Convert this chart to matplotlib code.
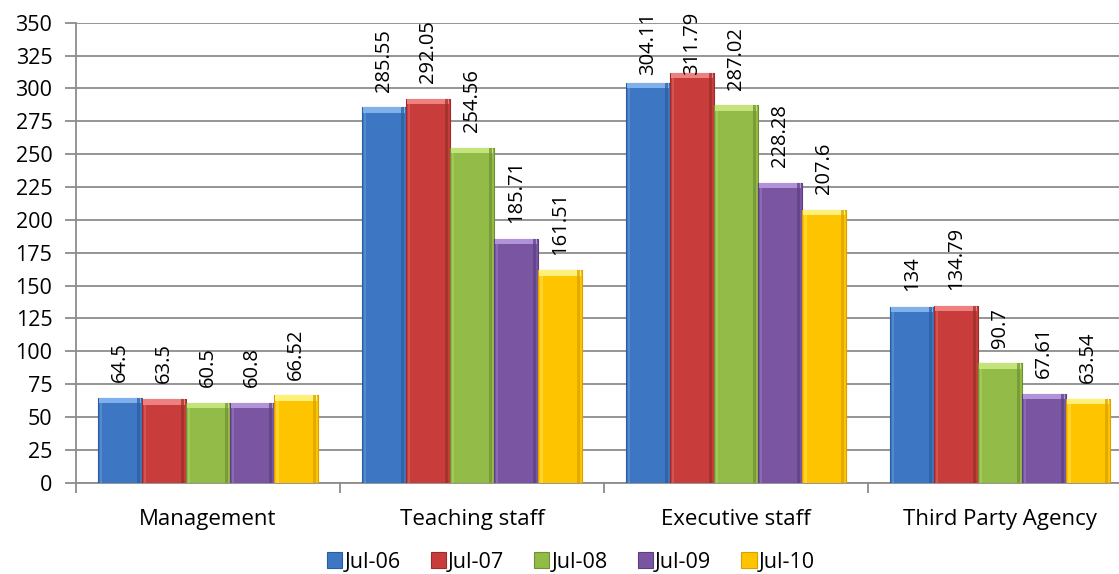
import matplotlib
matplotlib.use('Agg')
import matplotlib.pyplot as plt
import numpy as np

# chart values
categories = ['Management', 'Teaching staff', 'Executive staff', 'Third Party Agency']
series = ['Jul-06', 'Jul-07', 'Jul-08', 'Jul-09', 'Jul-10']
jul06 = [64.5, 285.55, 304.11, 134]
jul07 = [63.5, 292.05, 311.79, 134.79]
jul08 = [60.5, 254.56, 287.02, 90.7]
jul09 = [60.8, 185.71, 228.28, 67.61]
jul10 = [66.52, 161.51, 207.6, 63.54]
values = [jul06, jul07, jul08, jul09, jul10]
labels = [['64.5', '285.55', '304.11', '134'],
          ['63.5', '292.05', '311.79', '134.79'],
          ['60.5', '254.56', '287.02', '90.7'],
          ['60.8', '185.71', '228.28', '67.61'],
          ['66.52', '161.51', '207.6', '63.54']]

colors = ['#3d77c4', '#c83d3b', '#93bb47', '#7a56a2', '#ffc400']
light = ['#7fb0ec', '#ee8080', '#c4e37a', '#b093d8', '#fff07a']
dark = ['#2b5c9c', '#9a2c2a', '#6f9033', '#5b3f7f', '#d8a000']

plt.rcParams['font.family'] = ['Open Sans', 'DejaVu Sans']

W, H = 1119, 574
fig = plt.figure(figsize=(W / 100, H / 100), dpi=100)
ax = fig.add_axes([76 / W, 1 - 482.7 / H, 1056 / W, 460 / H])

ax.set_xlim(0, 4)
ax.set_ylim(0, 350)

x = np.arange(len(categories)) + 0.5
w = 0.167
texts = []
for i, vals in enumerate(values):
    pos = x + (i - 2) * w
    ax.bar(pos, vals, width=w, color=colors[i], edgecolor=dark[i],
           linewidth=0.8, label=series[i], zorder=3)
    # bevel: lighter top band, darker right strip, lighter left strip
    ax.bar(pos, [4] * len(vals), bottom=np.array(vals) - 4, width=w * 0.94,
           color=light[i], linewidth=0, zorder=4)
    ax.bar(pos + w * 0.42, vals, width=w * 0.08, color=dark[i], linewidth=0,
           zorder=4, alpha=0.7)
    ax.bar(pos - w * 0.43, vals, width=w * 0.06, color=light[i], linewidth=0,
           zorder=4, alpha=0.35)
    for p, v, t in zip(pos, vals, labels[i]):
        texts.append(ax.text(p, v + 12, t, rotation=90, ha='center', va='bottom',
                             fontsize=14.5, zorder=5))

ax.set_yticks(np.arange(0, 351, 25))
ax.yaxis.grid(True, color='#8c8c8c', linewidth=1.3, zorder=0)
ax.set_axisbelow(True)

ax.set_xticks([0, 1, 2, 3, 4])
ax.set_xticklabels([])
ax.set_xticks(x, minor=True)
ax.set_xticklabels(categories, minor=True)
ax.tick_params(axis='x', which='minor', length=0, pad=19, labelsize=16)
ax.tick_params(axis='x', which='major', length=7, color='#8c8c8c', width=1.3)
ax.tick_params(axis='y', length=8, color='#8c8c8c', width=1.3, labelsize=15.5, pad=9)

for s in ['top', 'right']:
    ax.spines[s].set_visible(False)
for s in ['left', 'bottom']:
    ax.spines[s].set_color('#8c8c8c')
    ax.spines[s].set_linewidth(1.3)

handles, names = ax.get_legend_handles_labels()
fig.legend(handles, names, loc='center', bbox_to_anchor=(571 / W, 1 - 562 / H),
           ncol=5, frameon=False, fontsize=15.5, handlelength=0.7, handleheight=0.7,
           handletextpad=0.1, columnspacing=1.4, borderpad=0)

# keep value labels inside the chart area (top limit like the source)
fig.canvas.draw()
r = fig.canvas.get_renderer()
top_px = H - 12
for t in texts:
    bb = t.get_window_extent(r)
    if bb.y1 > top_px:
        px, py = ax.transData.transform(t.get_position())
        nx, ny = ax.transData.inverted().transform((px, py - (bb.y1 - top_px)))
        t.set_position((nx, ny))

fig.savefig('out.png', dpi=100)
